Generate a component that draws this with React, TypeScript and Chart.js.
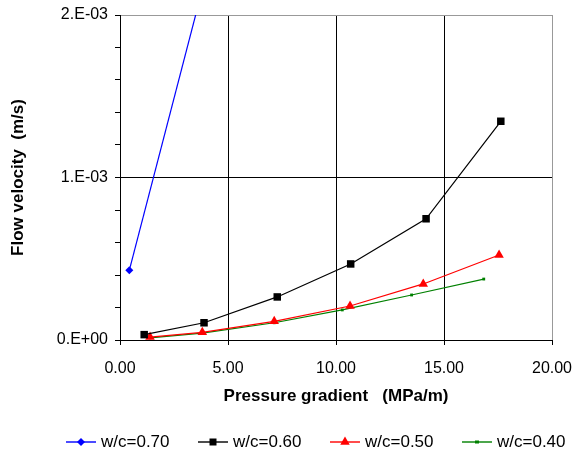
import React, { useEffect, useRef } from "react";
import { Chart, registerables } from "chart.js";

Chart.register(...registerables);

const seriesNames = ["w/c=0.70", "w/c=0.60", "w/c=0.50", "w/c=0.40"];
const seriesColors = ["#0000FF", "#000000", "#FF0000", "#008000"];

const x070 = [0.43, 4.5];
const y070 = [0.000429, 0.00251];

const x060 = [1.12, 3.89, 7.28, 10.68, 14.17, 17.63];
const y060 = [0.000033, 0.000106, 0.000265, 0.000468, 0.000746, 0.001346];

const x050 = [1.39, 3.81, 7.14, 10.65, 14.04, 17.55];
const y050 = [0.000018, 0.000047, 0.000115, 0.000209, 0.000345, 0.000523];

const x040 = [1.39, 3.81, 7.14, 10.29, 13.5, 16.84];
const y040 = [0.000013, 0.000042, 0.000106, 0.000185, 0.000277, 0.000375];

const xTicks = [0, 5, 10, 15, 20];
const yMajorLabels = ["0.E+00", "1.E-03", "2.E-03"];

const FONT = "'Liberation Sans', Arial, sans-serif";

function pts(xs: number[], ys: number[]) {
  return xs.map((x, i) => ({ x, y: ys[i] }));
}

function drawMarker(ctx: CanvasRenderingContext2D, style: string, x: number, y: number, color: string) {
  ctx.save();
  ctx.fillStyle = color;
  ctx.beginPath();
  if (style === "diamond") {
    const r = 4;
    ctx.moveTo(x, y - r);
    ctx.lineTo(x + r, y);
    ctx.lineTo(x, y + r);
    ctx.lineTo(x - r, y);
  } else if (style === "square") {
    ctx.rect(x - 3.5, y - 3.5, 7, 7);
  } else if (style === "triangle") {
    const r = 5.5;
    ctx.moveTo(x, y - r);
    ctx.lineTo(x + r * 0.866, y + r / 2);
    ctx.lineTo(x - r * 0.866, y + r / 2);
  } else {
    ctx.rect(x - 2, y - 1.5, 4, 3);
  }
  ctx.closePath();
  ctx.fill();
  ctx.restore();
}

const markerStyles = ["diamond", "square", "triangle", "dash"];

const legendPlugin = {
  id: "customLegend",
  afterDraw(chart: any) {
    const ctx = chart.ctx as CanvasRenderingContext2D;
    const y = 442;
    const startX = 66;
    const spacing = 132;
    ctx.save();
    seriesNames.forEach((name, i) => {
      const x0 = startX + i * spacing;
      ctx.strokeStyle = seriesColors[i];
      ctx.globalAlpha = 0.7;
      ctx.lineWidth = 2;
      ctx.beginPath();
      ctx.moveTo(x0, y);
      ctx.lineTo(x0 + 30, y);
      ctx.stroke();
      ctx.globalAlpha = 1;
      drawMarker(ctx, markerStyles[i], x0 + 15, y, seriesColors[i]);
      ctx.fillStyle = "#000";
      ctx.font = `17px ${FONT}`;
      ctx.textAlign = "left";
      ctx.textBaseline = "middle";
      ctx.fillText(name, x0 + 35, y);
    });
    ctx.restore();
  },
};

export default function App() {
  const ref = useRef<HTMLCanvasElement | null>(null);

  useEffect(() => {
    if (!ref.current) return;
    const chart = new Chart(ref.current, {
      type: "scatter",
      data: {
        datasets: [
          {
            label: seriesNames[0],
            data: pts(x070, y070),
            showLine: true,
            borderColor: seriesColors[0],
            backgroundColor: seriesColors[0],
            borderWidth: 1.2,
            pointStyle: "rectRot",
            pointRadius: 4,
            pointBorderWidth: 0,
          },
          {
            label: seriesNames[1],
            data: pts(x060, y060),
            showLine: true,
            borderColor: seriesColors[1],
            backgroundColor: seriesColors[1],
            borderWidth: 1.2,
            pointStyle: "rect",
            pointRadius: 5.3,
            pointBorderWidth: 0,
          },
          {
            label: seriesNames[2],
            data: pts(x050, y050),
            showLine: true,
            borderColor: seriesColors[2],
            backgroundColor: seriesColors[2],
            borderWidth: 1.2,
            pointStyle: "triangle",
            pointRadius: 5.5,
            pointBorderWidth: 0,
          },
          {
            label: seriesNames[3],
            data: pts(x040, y040),
            showLine: true,
            borderColor: seriesColors[3],
            backgroundColor: seriesColors[3],
            borderWidth: 1.2,
            pointStyle: "rect",
            pointRadius: 2,
            pointBorderWidth: 0,
          },
        ],
      },
      plugins: [legendPlugin],
      options: {
        animation: false,
        responsive: false,
        layout: { padding: { left: 0, top: 15, right: 20, bottom: 0 } },
        plugins: {
          legend: { display: false },
          tooltip: { enabled: false },
        },
        elements: { line: { tension: 0 } },
        scales: {
          x: {
            type: "linear",
            min: 0,
            max: 20,
            afterBuildTicks: (scale: any) => {
              scale.ticks = xTicks.map((v) => ({ value: v }));
            },
            afterFit: (scale: any) => {
              scale.height = 116;
              scale.paddingLeft = 0;
              scale.paddingRight = 0;
            },
            ticks: {
              autoSkip: false,
              maxRotation: 0,
              padding: 14,
              color: "#000",
              font: { family: FONT, size: 16 },
              callback: (v: any) => Number(v).toFixed(2),
            },
            grid: {
              color: (c: any) => (c.tick && c.tick.value === 20 ? "#999999" : c.tick && c.tick.value === 0 ? "rgba(0,0,0,0)" : "#000000"),
              tickColor: "#000000",
              tickLength: 5,
              lineWidth: 1,
            },
            border: { color: "#000000", width: 1 },
            title: {
              display: true,
              text: "Pressure gradient   (MPa/m)",
              color: "#000",
              font: { family: FONT, size: 17, weight: "bold" },
              padding: { top: 0, bottom: 49 },
            },
          },
          y: {
            type: "linear",
            min: 0,
            max: 0.002,
            afterBuildTicks: (scale: any) => {
              const t = [];
              for (let i = 0; i <= 10; i++) t.push({ value: i * 0.0002 });
              scale.ticks = t;
            },
            afterFit: (scale: any) => {
              scale.width = 120;
              scale.paddingTop = 0;
              scale.paddingBottom = 0;
            },
            ticks: {
              autoSkip: false,
              padding: 7,
              color: "#000",
              font: { family: FONT, size: 16 },
              callback: (v: any) => {
                const idx = Math.round(Number(v) / 0.0002);
                return idx % 5 === 0 ? yMajorLabels[idx / 5] : "";
              },
            },
            grid: {
              color: (c: any) => {
                if (!c.tick) return "rgba(0,0,0,0)";
                const idx = Math.round(c.tick.value / 0.0002);
                if (idx === 5) return "#000000";
                if (idx === 10) return "#999999";
                return "rgba(0,0,0,0)";
              },
              tickColor: "#000000",
              tickLength: 5,
              lineWidth: 1,
            },
            border: { color: "#000000", width: 1 },
            title: {
              display: true,
              text: "Flow velocity  (m/s)",
              color: "#000",
              font: { family: FONT, size: 17, weight: "bold" },
              padding: { top: 8, bottom: 0 },
            },
          },
        },
      },
    } as any);
    return () => chart.destroy();
  }, []);

  return (
    <div style={{ position: "fixed", left: 0, top: 0, width: 572, height: 456, background: "#fff" }}>
      <canvas ref={ref} width={572} height={456} style={{ display: "block" }} />
    </div>
  );
}
